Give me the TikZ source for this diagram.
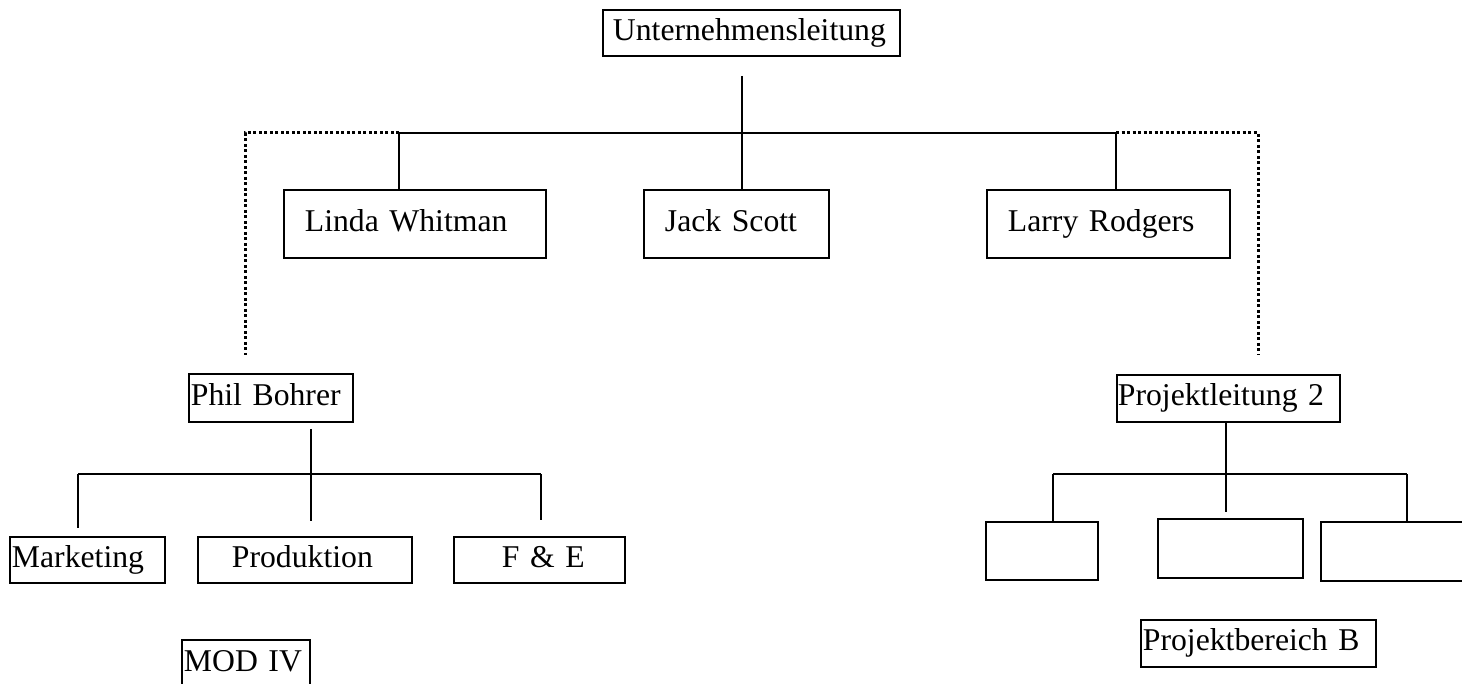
\documentclass[tikz,border=0pt]{standalone}
\usepackage{fontspec}
\setmainfont{Liberation Serif}
\tikzset{
	unit/.style={draw, line width=1.9pt, inner xsep=0pt, inner ysep=0pt, align=left, anchor=north west, text height=22pt, text depth=7pt, font=\fontsize{31.7}{36}\selectfont},
	empty/.style={draw, line width=2.4pt, anchor=north west},
	link/.style={line width=2.4pt},
	dots/.style={line width=3pt, dash pattern=on 3pt off 2.5pt},
}
\begin{document}
\begin{tikzpicture}[x=1pt,y=-1pt]
		\useasboundingbox (0,0) rectangle (1462,684);
		\clip (0,0) rectangle (1462,684);
		% top level
		\node[unit, text width=297pt, minimum height=46pt] (ul) at (602,9) {\hspace*{10pt}Unternehmensleitung};
		\node[unit, text width=262pt, minimum height=68pt] (lw) at (283,189) {\hspace*{21pt}Linda Whitman};
		\node[unit, text width=185pt, minimum height=68pt] (js) at (643,189) {\hspace*{21pt}Jack Scott};
		\node[unit, text width=243pt, minimum height=68pt] (lr) at (986,189) {\hspace*{21pt}Larry Rodgers};
		% project leads
		\node[unit, text width=164pt, minimum height=48pt] (pb) at (188,373) {\hspace*{2pt}Phil Bohrer};
		\node[unit, text width=223pt, minimum height=47pt] (pl) at (1116,374) {\hspace*{1pt}Projektleitung 2};
		% departments
		\node[unit, text width=155pt, minimum height=46pt] (mk) at (9,536) {\hspace*{2pt}Marketing};
		\node[unit, text width=214pt, minimum height=46pt] (pr) at (197,536) {\hspace*{34pt}Produktion};
		\node[unit, text width=171pt, minimum height=46pt] (fe) at (453,536) {\hspace*{48pt}F \& E};
		\node[unit, text width=128pt, minimum height=48pt] (mod) at (181,639) {\hspace*{2pt}MOD IV};
		% empty boxes of project 2
		\node[empty, minimum width=112pt, minimum height=58pt] (e1) at (985,521) {};
		\node[empty, minimum width=145pt, minimum height=59pt] (e2) at (1157,518) {};
		\node[empty, minimum width=160pt, minimum height=59pt] (e3) at (1320,521) {};
		\node[unit, text width=235pt, minimum height=47pt] (pbb) at (1140,619) {\hspace*{2pt}Projektbereich B};
		% lines at the top
		\coordinate (trunk) at (742,133);
		\coordinate (busL) at (399,133);
		\coordinate (busR) at (1116,133);
		\coordinate (pbdot) at (245,355);
		\coordinate (pldot) at (1258,355);
		\draw[link, shorten <=19pt] (trunk |- ul.south) -- (trunk |- js.north);
		\draw[link] (busL) -- (busR);
		\draw[link] (busL) -- (busL |- lw.north);
		\draw[link] (busR) -- (busR |- lr.north);
		\draw[dots] (busL) -| (pbdot);
		\draw[dots] (busR) -| (pldot);
		% lines below Phil Bohrer
		\coordinate (pbbus) at (311,474);
		\coordinate (mkup) at (78,474);
		\coordinate (feup) at (541,474);
		\draw[link, shorten <=6pt, shorten >=15pt] (pbbus |- pb.south) -- (pbbus |- pr.north);
		\draw[link] (mkup) -- (feup);
		\draw[link, shorten >=8pt] (mkup) -- (mkup |- mk.north);
		\draw[link, shorten >=16pt] (feup) -- (feup |- fe.north);
		% lines below Projektleitung 2
		\coordinate (plbus) at (1226,474);
		\coordinate (e1up) at (1053,474);
		\coordinate (e3up) at (1407,474);
		\draw[link, shorten >=6pt] (plbus |- pl.south) -- (plbus |- e2.north);
		\draw[link] (e1up) -- (e3up);
		\draw[link] (e1up) -- (e1up |- e1.north);
		\draw[link] (e3up) -- (e3up |- e3.north);
	\end{tikzpicture}
\end{document}
